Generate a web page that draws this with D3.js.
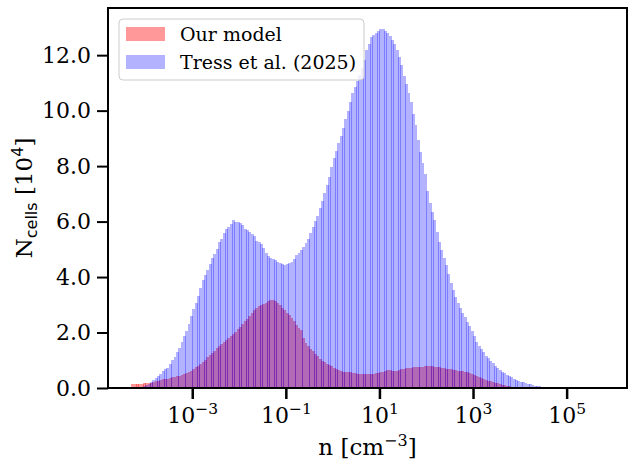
<!DOCTYPE html>
<html>
<head>
<meta charset="utf-8">
<script src="https://cdn.jsdelivr.net/npm/d3@7"></script>
<style>
  body { margin: 0; background: #fff; }
  svg { display: block; }
</style>
</head>
<body>
<svg></svg>
<script>
// histogram of cell densities, log bins of 0.05 dex starting at 10^-4.3
let width   = 628,
    height  = 459,
    plotL   = 108,
    plotR   = 627,
    plotT   = 8,
    plotB   = 388;

const logStart = -4.3,
      binWidth = 0.05;

// N_cells in units of 10^4, one value per bin
const ourModel = [
  0.14, 0.14, 0.14, 0.14, 0.16, 0.17, 0.17, 0.17, 0.19, 0.22,
  0.24, 0.26, 0.28, 0.31, 0.33, 0.34, 0.36, 0.38, 0.40, 0.43,
  0.45, 0.48, 0.51, 0.55, 0.57, 0.62, 0.67, 0.74, 0.80, 0.86,
  0.93, 1.00, 1.10, 1.18, 1.27, 1.35, 1.44, 1.52, 1.60, 1.67,
  1.73, 1.80, 1.86, 1.95, 2.03, 2.12, 2.20, 2.29, 2.40, 2.50,
  2.61, 2.72, 2.82, 2.90, 2.95, 3.00, 3.04, 3.08, 3.12, 3.16,
  3.18, 3.12, 3.06, 2.98, 2.89, 2.80, 2.72, 2.64, 2.52, 2.40,
  2.27, 2.18, 2.10, 1.80, 1.64, 1.50, 1.40, 1.32, 1.24, 1.15,
  1.05, 0.98, 0.92, 0.88, 0.84, 0.78, 0.73, 0.69, 0.64, 0.61,
  0.59, 0.58, 0.57, 0.56, 0.55, 0.53, 0.52, 0.50, 0.50, 0.50,
  0.50, 0.50, 0.51, 0.52, 0.53, 0.54, 0.56, 0.58, 0.60, 0.65,
  0.64, 0.63, 0.62, 0.63, 0.65, 0.67, 0.70, 0.71, 0.72, 0.73,
  0.74, 0.75, 0.76, 0.77, 0.77, 0.78, 0.79, 0.79, 0.78, 0.77,
  0.76, 0.75, 0.73, 0.72, 0.70, 0.69, 0.67, 0.65, 0.64, 0.62,
  0.61, 0.60, 0.58, 0.57, 0.55, 0.50, 0.46, 0.42, 0.38, 0.35,
  0.32, 0.30, 0.27, 0.24, 0.22, 0.19, 0.17, 0.14, 0.12, 0.10,
  0.08, 0.06, 0.04, 0.02
];

const tress = [
  0, 0, 0, 0.02, 0.04, 0.07, 0.10, 0.16, 0.22, 0.29,
  0.35, 0.42, 0.50, 0.60, 0.67, 0.73, 0.85, 1.00, 1.12, 1.28,
  1.45, 1.66, 1.88, 2.06, 2.30, 2.58, 2.86, 3.05, 3.30, 3.62,
  3.90, 4.08, 4.25, 4.47, 4.68, 4.82, 5.00, 5.28, 5.38, 5.58,
  5.72, 5.80, 5.93, 6.06, 6.00, 5.97, 5.94, 5.88, 5.72, 5.68,
  5.62, 5.56, 5.48, 5.30, 5.27, 5.20, 5.04, 4.86, 4.75, 4.69,
  4.64, 4.60, 4.55, 4.50, 4.46, 4.42, 4.46, 4.50, 4.55, 4.65,
  4.78, 4.88, 4.99, 5.10, 5.22, 5.38, 5.58, 5.82, 6.02, 6.20,
  6.48, 6.74, 7.04, 7.32, 7.60, 7.98, 8.28, 8.55, 8.82, 9.10,
  9.38, 9.70, 10.00, 10.32, 10.62, 10.85, 11.08, 11.30, 11.55, 11.82,
  12.18, 12.42, 12.66, 12.74, 12.81, 12.86, 12.93, 12.94, 12.88, 12.80,
  12.68, 12.55, 12.40, 12.18, 11.92, 11.65, 11.25, 10.95, 10.62, 10.30,
  9.88, 9.48, 8.95, 8.52, 8.10, 7.70, 7.12, 6.68, 6.35, 6.05,
  5.62, 5.28, 4.98, 4.68, 4.42, 4.12, 3.78, 3.52, 3.28, 3.05,
  2.90, 2.72, 2.55, 2.38, 2.22, 2.06, 1.86, 1.67, 1.53, 1.41,
  1.28, 1.15, 1.07, 0.98, 0.90, 0.81, 0.73, 0.65, 0.59, 0.53,
  0.48, 0.42, 0.38, 0.34, 0.30, 0.26, 0.23, 0.20, 0.17, 0.15,
  0.13, 0.11, 0.09, 0.08, 0.06, 0.05, 0.03, 0.02
];

const seriesNames = ['Our model', 'Tress et al. (2025)'];
const xTicks = [1e-3, 1e-1, 1e1, 1e3, 1e5];
const yTicks = [0, 2, 4, 6, 8, 10, 12];

const serif = 'DejaVu Serif',
      sans  = 'DejaVu Sans';

let xScale = d3.scaleLog()
                .domain([Math.pow(10, -4.8), Math.pow(10, 6.29)])
                .range([plotL, plotR]),
    yScale = d3.scaleLinear()
                .domain([0, 13.7])
                .range([plotB, plotT]);

let svg = d3.select('svg')
            .attr('width', width)
            .attr('height', height);

function toBins(values) {
    return values.map((v, i) => ({
        x0: Math.pow(10, logStart + i * binWidth),
        x1: Math.pow(10, logStart + (i + 1) * binWidth),
        v: v
    }));
}

//Bars
let series = [
    { name: seriesNames[0], values: ourModel, color: 'red',  alpha: 0.4 },
    { name: seriesNames[1], values: tress,    color: 'blue', alpha: 0.3 }
];

series.forEach(s => {
    svg.append('g')
        .attr('fill', s.color)
        .attr('fill-opacity', s.alpha)
        .attr('shape-rendering', 'crispEdges')
      .selectAll('rect')
      .data(toBins(s.values).filter(d => d.v > 0))
      .enter()
      .append('rect')
        .attr('x', d => xScale(d.x0))
        .attr('width', d => xScale(d.x1) - xScale(d.x0) + 0.6)
        .attr('y', d => yScale(d.v))
        .attr('height', d => yScale(0) - yScale(d.v));
});

//Axes
let yAxis = d3.axisLeft(yScale)
                .tickValues(yTicks)
                .tickFormat(d3.format('.1f'))
                .tickSize(11)
                .tickPadding(6);

svg.append('g')
    .attr('transform', `translate(${plotL}, 0)`)
    .call(yAxis)
    .attr('font-family', serif)
    .attr('font-size', 22)
    .call(g => g.select('.domain').remove())
    .call(g => g.selectAll('.tick line').attr('stroke-width', 2));

let xAxis = d3.axisBottom(xScale)
                .tickValues(xTicks)
                .tickFormat(() => '')
                .tickSize(11)
                .tickPadding(8);

svg.append('g')
    .attr('transform', `translate(0, ${plotB})`)
    .call(xAxis)
    .attr('font-family', serif)
    .attr('font-size', 22)
    .call(g => g.select('.domain').remove())
    .call(g => g.selectAll('.tick line').attr('stroke-width', 2.5))
    .call(g => g.selectAll('.tick text').each(function(d) {
        let t = d3.select(this);
        let e = Math.round(Math.log10(d));
        t.append('tspan').text('10');
        t.append('tspan')
            .attr('font-size', 15.5)
            .attr('dy', -9)
            .text(e < 0 ? '\u2212' + (-e) : e);
    }));

//Frame
svg.append('rect')
    .attr('x', plotL)
    .attr('y', plotT)
    .attr('width', plotR - plotL)
    .attr('height', plotB - plotT)
    .attr('fill', 'none')
    .attr('stroke', '#000')
    .attr('stroke-width', 2);

//Labels
let xLabel = svg.append('text')
    .attr('x', (plotL + plotR) / 2)
    .attr('y', 455)
    .attr('text-anchor', 'middle')
    .attr('font-family', serif)
    .attr('font-size', 23);
xLabel.append('tspan').text('n [cm');
xLabel.append('tspan').attr('font-size', 16).attr('dy', -9).text('\u22123');
xLabel.append('tspan').attr('dy', 9).text(']');

let yLabel = svg.append('text')
    .attr('transform', 'rotate(-90)')
    .attr('x', -(plotT + plotB) / 2)
    .attr('y', 32)
    .attr('text-anchor', 'middle')
    .attr('font-family', serif)
    .attr('font-size', 23);
yLabel.append('tspan').text('N');
yLabel.append('tspan').attr('font-family', sans).attr('font-size', 16).attr('dy', 5).text('cells');
yLabel.append('tspan').attr('dy', -5).text(' [10');
yLabel.append('tspan').attr('font-family', sans).attr('font-size', 16).attr('dy', -9).text('4');
yLabel.append('tspan').attr('dy', 9).text(']');

//Legend
let legend = svg.append('g');
legend.append('rect')
    .attr('x', 119)
    .attr('y', 19)
    .attr('width', 245)
    .attr('height', 61)
    .attr('rx', 4)
    .attr('fill', '#fff')
    .attr('fill-opacity', 0.8)
    .attr('stroke', '#cccccc')
    .attr('stroke-width', 1);

series.forEach((s, i) => {
    legend.append('rect')
        .attr('x', 126)
        .attr('y', 27 + i * 28)
        .attr('width', 39)
        .attr('height', 14)
        .attr('fill', s.color)
        .attr('fill-opacity', s.alpha);
    legend.append('text')
        .attr('x', 180)
        .attr('y', 41 + i * 28)
        .attr('font-family', serif)
        .attr('font-size', 19)
        .text(s.name);
});
</script>
</body>
</html>
